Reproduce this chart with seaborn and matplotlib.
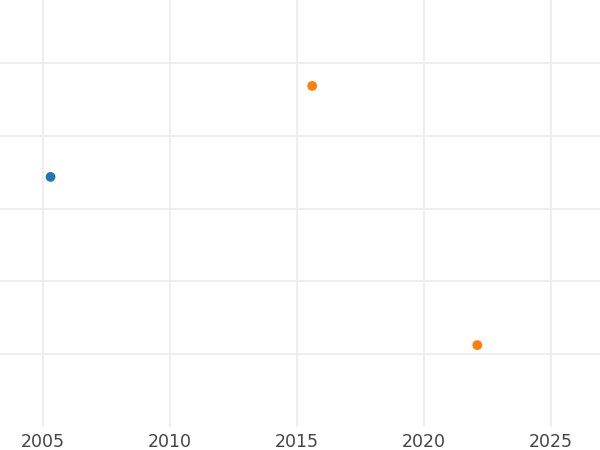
import pandas as pd
import matplotlib.pyplot as plt
import seaborn as sns

# datos
anio = [2005.3, 2015.6, 2022.1]
valor = [34.35, 46.85, 11.25]
grupo = ["A", "B", "B"]

df = pd.DataFrame({"anio": anio, "valor": valor, "grupo": grupo})

sns.set_style("whitegrid", {"grid.color": "#ebebeb", "axes.edgecolor": "white"})
plt.rcParams["font.family"] = ["DejaVu Sans"]

fig = plt.figure(figsize=(6, 4.5), dpi=100)
ax = fig.add_axes([0, 0.0511, 1, 0.9489])

sns.scatterplot(data=df, x="anio", y="valor", hue="grupo",
                palette=["#1f77b4", "#ff7f0e"], s=50, edgecolor="none",
                legend=False, ax=ax)

ax.set_xlim(2003.31, 2026.93)
ax.set_ylim(0, 58.65)
ax.set_xticks([2005, 2010, 2015, 2020, 2025])
ax.set_yticks([10, 20, 30, 40, 50])
ax.set_yticklabels([])
ax.grid(True, linewidth=1.2)
ax.tick_params(axis="x", length=0, pad=4, labelsize=12.5, labelcolor="#444444")
ax.tick_params(axis="y", length=0)
ax.set_xlabel("")
ax.set_ylabel("")
for s in ax.spines.values():
    s.set_visible(False)

fig.savefig("out.png", dpi=100)
